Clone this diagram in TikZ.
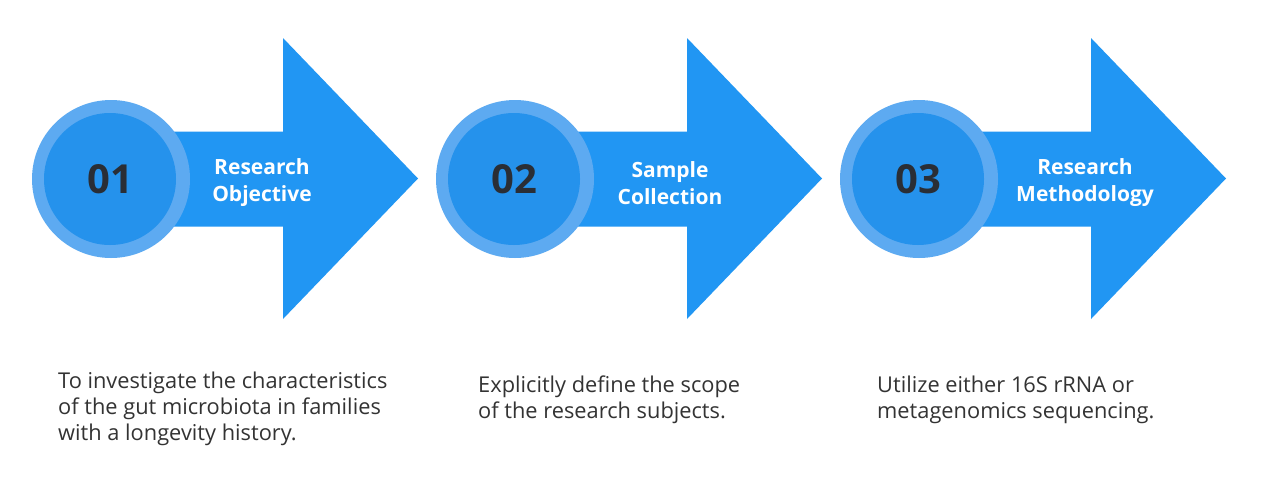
\documentclass[tikz,border=0pt]{standalone}
\usepackage{fontspec}
\setmainfont{Open Sans}
\definecolor{arrowblue}{HTML}{2196F3}
\definecolor{ringblue}{HTML}{5DAAF1}
\definecolor{innerblue}{HTML}{2592EC}
\definecolor{numdark}{HTML}{2A2E35}
\definecolor{desctext}{HTML}{333333}
\begin{document}
\begin{tikzpicture}[x=1pt,y=-1pt,
  arrowshape/.style={fill=arrowblue,draw=none},
  ring/.style={circle,fill=ringblue,minimum size=158pt,inner sep=0},
  core/.style={circle,fill=innerblue,minimum size=132pt,inner sep=0,text=numdark,
    font=\fontsize{40}{40}\bfseries\selectfont},
  steplabel/.style={text=white,align=center,inner sep=0,
    font=\fontsize{21}{27}\bfseries\selectfont},
  desc/.style={text=desctext,align=left,anchor=north west,inner sep=0,
    font=\fontsize{21.8}{26}\selectfont}]
\useasboundingbox (0,0) rectangle (1265,490);
\fill[white] (0,0) rectangle (1265,490);
\foreach \dx in {0,404,808}{
  \fill[arrowshape] (111+\dx,131.5) -- (283+\dx,131.5) -- (283+\dx,38)
     -- (418+\dx,178.5) -- (283+\dx,319) -- (283+\dx,226.5) -- (111+\dx,226.5) -- cycle;
}
\node[ring] (r1) at (111,179) {};
\node[core] (c1) at (110,179) {01};
\node[ring] (r2) at (515,179) {};
\node[core] (c2) at (514,179) {02};
\node[ring] (r3) at (919,179) {};
\node[core] (c3) at (918,179) {03};
\node[steplabel] (l1) at (262,183) {Research\\Objective};
\node[steplabel] (l2) at (670,183) {Sample\\Collection};
\node[steplabel] (l3) at (1085,183) {Research\\Methodology};
\node[desc] (d1) at (58,372) {To investigate the characteristics\\of the gut microbiota in families\\with a longevity history.};
\node[desc] (d2) at (478,376) {Explicitly define the scope\\of the research subjects.};
\node[desc] (d3) at (877,376) {Utilize either 16S rRNA or\\metagenomics sequencing.};
\end{tikzpicture}
\end{document}
